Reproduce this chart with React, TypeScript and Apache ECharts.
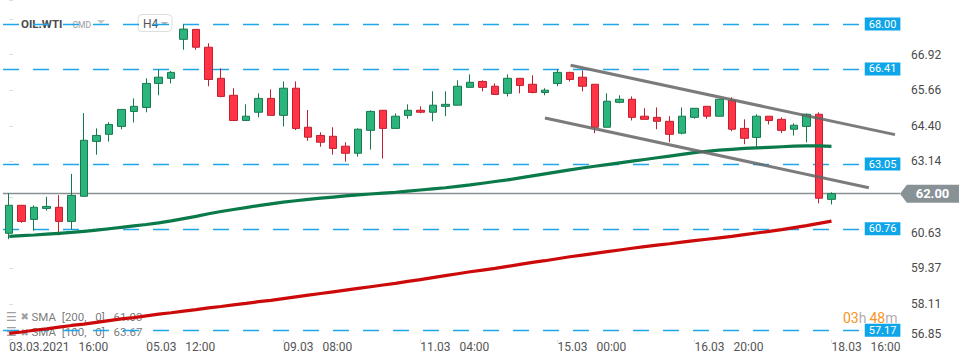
import React, { useEffect, useRef } from "react";
import * as echarts from "echarts";

// ---- data (H4 candles, OIL.WTI) ----
const opens = [
  60.60, 61.59, 61.09, 61.48, 61.52, 61.02, 61.91, 63.85, 64.10, 64.38,
  64.91, 65.05, 65.90, 66.08, 67.46, 67.81, 67.18, 66.08, 65.48, 64.59,
  64.88, 65.37, 64.77, 65.73, 64.35, 64.06, 64.03, 63.68, 63.43, 64.24,
  64.95, 64.31, 64.77, 64.95, 64.88, 65.09, 65.13, 65.76, 65.97, 65.80,
  65.55, 66.08, 65.87, 65.58, 65.90, 66.29, 66.12, 65.87, 64.35, 65.23,
  65.34, 64.74, 64.70, 64.56, 64.14, 64.70, 65.09, 64.74, 65.30, 64.31,
  63.99, 64.74, 64.63, 64.28, 64.38, 64.81, 61.80,
];
const closes = [
  61.59, 61.02, 61.52, 61.55, 61.02, 61.94, 63.89, 64.06, 64.45, 64.98,
  65.09, 65.90, 66.12, 66.29, 67.82, 67.18, 66.04, 65.44, 64.59, 64.74,
  65.37, 64.77, 65.73, 64.31, 64.00, 63.82, 63.60, 63.43, 64.28, 64.91,
  64.31, 64.74, 64.95, 64.88, 65.13, 65.16, 65.80, 65.94, 65.76, 65.51,
  66.08, 65.83, 65.58, 65.66, 66.29, 66.04, 65.80, 64.35, 65.27, 65.34,
  64.70, 64.63, 64.56, 64.10, 64.74, 65.02, 64.74, 65.34, 64.28, 63.96,
  64.74, 64.59, 64.24, 64.42, 64.81, 61.84, 62.00,
];
const lows = [
  60.39, 60.97, 60.69, 61.40, 60.53, 60.74, 61.90, 63.38, 63.84, 64.28,
  64.52, 64.88, 65.48, 65.90, 67.09, 67.09, 65.80, 65.41, 64.59, 64.59,
  64.70, 64.77, 64.38, 64.25, 63.87, 63.66, 63.38, 63.13, 63.31, 63.56,
  63.24, 64.31, 64.65, 64.84, 64.56, 64.74, 65.13, 65.76, 65.62, 65.51,
  65.44, 65.55, 65.55, 65.48, 65.80, 65.97, 65.62, 64.14, 64.35, 65.20,
  64.59, 64.63, 64.28, 63.82, 64.10, 64.65, 64.65, 64.74, 64.21, 63.75,
  63.60, 64.45, 64.14, 64.06, 63.82, 61.66, 61.62,
];
const highs = [
  62.01, 61.60, 61.59, 61.89, 61.95, 62.70, 64.85, 64.31, 64.53, 64.98,
  65.37, 66.08, 66.40, 66.34, 67.99, 67.82, 67.32, 66.43, 65.73, 65.16,
  65.55, 65.69, 65.97, 65.97, 64.96, 64.17, 64.35, 63.82, 64.31, 64.95,
  64.95, 64.84, 65.16, 65.09, 65.62, 65.62, 66.01, 66.22, 66.01, 65.90,
  66.22, 66.08, 66.19, 65.73, 66.40, 66.31, 66.36, 65.87, 65.55, 65.48,
  65.44, 65.02, 65.05, 64.74, 65.05, 65.02, 65.09, 65.34, 65.41, 64.63,
  64.81, 64.74, 64.70, 64.49, 64.84, 64.88, 62.05,
];
const sma100 = [
  60.49, 60.52, 60.54, 60.57, 60.60, 60.63, 60.67, 60.71, 60.76, 60.81,
  60.86, 60.91, 60.97, 61.04, 61.12, 61.20, 61.29, 61.37, 61.44, 61.51,
  61.58, 61.64, 61.70, 61.75, 61.80, 61.84, 61.88, 61.92, 61.96, 61.99,
  62.02, 62.05, 62.09, 62.13, 62.17, 62.21, 62.26, 62.31, 62.37, 62.43,
  62.49, 62.56, 62.63, 62.70, 62.77, 62.84, 62.91, 62.97, 63.03, 63.09,
  63.15, 63.21, 63.27, 63.33, 63.39, 63.45, 63.50, 63.54, 63.57, 63.60,
  63.62, 63.64, 63.66, 63.68, 63.69, 63.69, 63.67,
];
const sma200 = [
  57.06, 57.11, 57.17, 57.22, 57.28, 57.34, 57.39, 57.45, 57.51, 57.57,
  57.62, 57.68, 57.74, 57.79, 57.85, 57.90, 57.96, 58.01, 58.07, 58.12,
  58.18, 58.23, 58.29, 58.35, 58.41, 58.47, 58.53, 58.59, 58.65, 58.71,
  58.77, 58.83, 58.90, 58.96, 59.03, 59.10, 59.17, 59.24, 59.30, 59.36,
  59.43, 59.50, 59.57, 59.63, 59.70, 59.77, 59.83, 59.89, 59.95, 60.01,
  60.07, 60.13, 60.18, 60.23, 60.29, 60.34, 60.39, 60.44, 60.49, 60.55,
  60.61, 60.67, 60.73, 60.80, 60.87, 60.95, 61.03,
];
const levels = [68.0, 66.41, 63.05, 60.76, 57.17];
const lastPrice = 62.0;
const xTickLabels = [
  "03.03.2021   16:00",
  "05.03   12:00",
  "09.03   08:00",
  "11.03   04:00",
  "15.03   00:00",
  "16.03   20:00",
  "18.03   16:00",
];
const xTickStep = 11;
const emptySlots = 5;
const yMin = 56.84;
const yMax = 68.85;
const yStep = 1.26;
const yTickLabels = ["56.85", "58.11", "59.37", "60.63", "", "63.14", "64.40", "65.66", "66.92", ""];
// channel trend lines: [slot index, price]
const upperChannel = [[45.06, 66.54], [71.1, 64.09]];
const lowerChannel = [[43.0, 64.68], [69.0, 62.21]];
const levelLineEnd = 68.43;
const smaLegend = ["SMA\u2002[200,\u2002 0]\u2002 61.03", "SMA\u2002[100,\u2002 0]\u2002 63.67"];
const countdown = ["03", "48"];

const FONT = "Roboto, 'Noto Sans', sans-serif";

function buildOption() {
  const n = opens.length;
  const total = n + emptySlots;
  const cats = Array.from({ length: total }, (_, i) => String(i));
  const candles = opens.map((o, i) => [o, closes[i], lows[i], highs[i]]);
  const tickInt = (i: number) => i % xTickStep === 0 && i < n;

  return {
    animation: false,
    backgroundColor: "#ffffff",
    textStyle: { fontFamily: FONT },
    grid: { left: 3, right: 70, top: 0, bottom: 24.4, containLabel: false },
    xAxis: [
      {
        type: "category",
        data: cats,
        boundaryGap: true,
        axisLine: { show: false },
        axisTick: {
          show: true,
          alignWithLabel: true,
          length: 3,
          interval: (i: number) => tickInt(i),
          lineStyle: { color: "#dcdcdc" },
        },
        axisLabel: {
          interval: (i: number) => tickInt(i),
          formatter: (_v: string, i: number) => xTickLabels[Math.round(i / xTickStep)] || "",
          align: "left",
          color: "#555",
          fontSize: 12,
          margin: 1,
          fontFamily: FONT,
        },
        splitLine: { show: false },
      },
      { type: "value", min: -0.5, max: total - 0.5, show: false },
    ],
    yAxis: {
      type: "value",
      position: "right",
      min: yMin,
      max: yMax,
      interval: yStep,
      axisLine: { show: false },
      axisTick: { show: true, length: 4, lineStyle: { color: "#dcdcdc" } },
      splitLine: { show: false },
      axisLabel: {
        margin: 11,
        color: "#4a4a4a",
        fontSize: 12,
        fontFamily: FONT,
        formatter: (v: number) => {
          const idx = Math.round((v - yMin) / yStep);
          const t = Math.abs(v - (yMin + idx * yStep)) < 0.001 ? yTickLabels[idx] || "" : "";
          if (idx === 0 && t) return "{b|" + t + "}";
          return t;
        },
        rich: { b: { padding: [0, 0, 12, 0], fontSize: 12, color: "#4a4a4a", fontFamily: FONT } },
      },
    },
    series: [
      {
        name: "levels",
        type: "line",
        xAxisIndex: 1,
        yAxisIndex: 0,
        data: [],
        silent: true,
        markLine: {
          silent: true,
          symbol: ["none", "none"],
          data: [
            ...levels.map((v) => [
              {
                coord: [-0.5, v],
                value: v,
                lineStyle: { color: "#1fa6ea", width: 1.3, type: [16, 14] },
                label: {
                  show: true,
                  position: "end",
                  distance: 3,
                  formatter: v.toFixed(2),
                  color: "#ffffff",
                  backgroundColor: "#0ea5e9",
                  padding: [1, 4, 1, 4],
                  fontSize: 11,
                  lineHeight: 11,
                  fontFamily: FONT,
                },
              },
              { coord: [levelLineEnd, v], value: v },
            ]),
            [
              {
                coord: [-0.5, lastPrice],
                value: lastPrice,
                lineStyle: { color: "#8a8f92", width: 1.3, type: "solid" },
                label: { show: false },
              },
              { coord: [total - 0.5, lastPrice], value: lastPrice },
            ],
          ],
        },
        markPoint: {
          silent: true,
          data: [
            {
              coord: [total - 0.5, lastPrice],
              value: lastPrice,
              symbol: "path://M0,9L7,0L60,0L60,18L7,18Z",
              symbolSize: [59, 18],
              symbolKeepAspect: false,
              symbolOffset: [29.5, 0],
              itemStyle: { color: "#889196" },
              label: {
                show: true,
                position: "inside",
                formatter: lastPrice.toFixed(2),
                color: "#ffffff",
                fontSize: 13,
                fontWeight: "bold",
                offset: [3, 0],
                fontFamily: FONT,
              },
            },
          ],
        },
      },
      {
        name: "OIL.WTI",
        type: "candlestick",
        xAxisIndex: 0,
        yAxisIndex: 0,
        data: candles,
        barWidth: 8,
        z: 10,
        silent: true,
        itemStyle: {
          color: "#2bb47b",
          color0: "#ff3447",
          borderColor: "#17794e",
          borderColor0: "#c21f2f",
          borderWidth: 1,
        },
      },
      {
        name: "SMA 100",
        type: "line",
        xAxisIndex: 0,
        yAxisIndex: 0,
        data: sma100,
        showSymbol: false,
        symbol: "none",
        z: 11,
        silent: true,
        lineStyle: { color: "#0b7a4a", width: 3.2 },
      },
      {
        name: "SMA 200",
        type: "line",
        xAxisIndex: 0,
        yAxisIndex: 0,
        data: sma200,
        showSymbol: false,
        symbol: "none",
        z: 11,
        silent: true,
        lineStyle: { color: "#cc0a0a", width: 3.2 },
      },
      {
        name: "upper channel",
        type: "line",
        xAxisIndex: 1,
        yAxisIndex: 0,
        data: upperChannel,
        showSymbol: false,
        symbol: "none",
        z: 12,
        silent: true,
        lineStyle: { color: "rgba(100,100,100,0.85)", width: 3 },
      },
      {
        name: "lower channel",
        type: "line",
        xAxisIndex: 1,
        yAxisIndex: 0,
        data: lowerChannel,
        showSymbol: false,
        symbol: "none",
        z: 12,
        silent: true,
        lineStyle: { color: "rgba(100,100,100,0.85)", width: 3 },
      },
    ],
    graphic: [
      {
        type: "group",
        z: 100,
        silent: true,
        children: [
          { type: "text", x: 21, y: 23.5, style: { text: "OIL.WTI", fontSize: 11.5, fontWeight: "bold", fill: "#4a4a4a", verticalAlign: "middle", fontFamily: FONT } },
          { type: "text", x: 72.5, y: 24.5, style: { text: "CMD", fontSize: 8.5, fill: "#9a9a9a", verticalAlign: "middle", fontFamily: FONT } },
          { type: "polygon", shape: { points: [[97, 20], [105, 20], [101, 24]] }, style: { fill: "#c8c8c8" } },
          { type: "rect", shape: { x: 138, y: 14.5, width: 34, height: 17, r: 4 }, style: { fill: "#ffffff", stroke: "#dedede", lineWidth: 1 } },
          { type: "text", x: 143, y: 23.5, style: { text: "H4", fontSize: 12, fill: "#555", verticalAlign: "middle", fontFamily: FONT } },
          { type: "polygon", shape: { points: [[161, 22], [168, 22], [164.5, 25.5]] }, style: { fill: "#b5b5b5" } },
          { type: "text", x: 6, y: 316.5, style: { text: "☰", fontSize: 12, fill: "#a0a0a0", verticalAlign: "middle", fontFamily: "DejaVu Sans" } },
          { type: "text", x: 20.5, y: 316.5, style: { text: "✖", fontSize: 10, fill: "#a0a0a0", verticalAlign: "middle", fontFamily: "DejaVu Sans" } },
          { type: "text", x: 31.5, y: 316.5, style: { text: smaLegend[0], fontSize: 11.5, fill: "rgba(95,95,95,0.85)", verticalAlign: "middle", fontFamily: FONT } },
          { type: "text", x: 6, y: 332, style: { text: "☰", fontSize: 12, fill: "#a0a0a0", verticalAlign: "middle", fontFamily: "DejaVu Sans" } },
          { type: "text", x: 20.5, y: 332, style: { text: "✖", fontSize: 10, fill: "#a0a0a0", verticalAlign: "middle", fontFamily: "DejaVu Sans" } },
          { type: "text", x: 31.5, y: 332, style: { text: smaLegend[1], fontSize: 11.5, fill: "rgba(95,95,95,0.85)", verticalAlign: "middle", fontFamily: FONT } },
          {
            type: "text",
            x: 843,
            y: 317.5,
            style: {
              text: "{o|" + countdown[0] + "}{g|h} {o|" + countdown[1] + "}{g|m}",
              verticalAlign: "middle",
              fontFamily: FONT,
              rich: {
                o: { fill: "#f7941d", fontSize: 14, lineHeight: 14, fontFamily: FONT },
                g: { fill: "#b0b0b0", fontSize: 14, lineHeight: 14, fontFamily: FONT },
              },
            },
          },
        ],
      },
    ],
  };
}

export default function App() {
  const ref = useRef<HTMLDivElement>(null);
  useEffect(() => {
    if (!ref.current) return;
    const chart = echarts.init(ref.current, null, { renderer: "svg" });
    chart.setOption(buildOption() as any);
    return () => chart.dispose();
  }, []);
  return (
    <div
      ref={ref}
      style={{ position: "fixed", left: 0, top: 0, width: 970, height: 364, background: "#ffffff" }}
    />
  );
}
